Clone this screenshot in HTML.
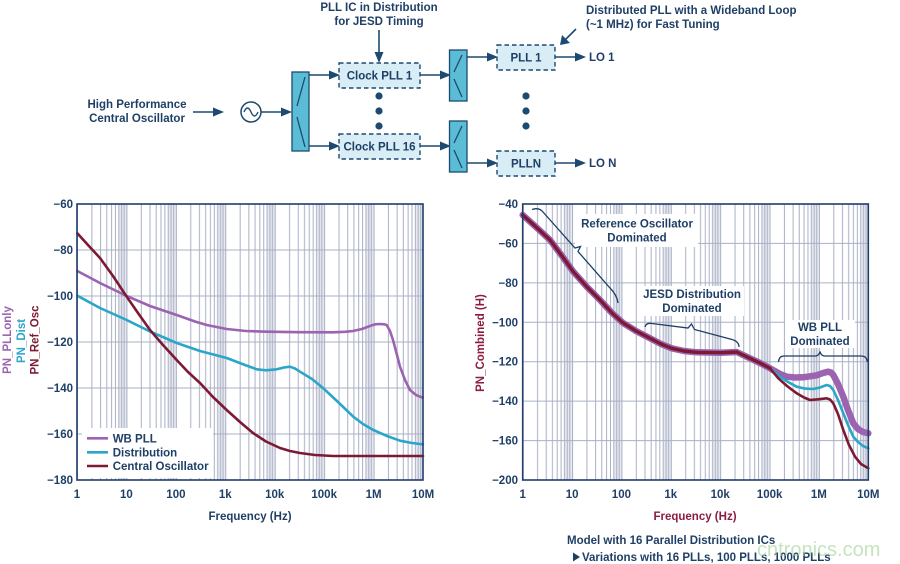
<!DOCTYPE html>
<html><head><meta charset="utf-8"><style>
html,body{margin:0;padding:0;background:#fff;}
svg{display:block;}
text{font-family:"Liberation Sans",Arial,sans-serif;font-weight:bold;font-size:11.5px;}
</style></head><body>
<svg width="900" height="564" viewBox="0 0 900 564" xmlns="http://www.w3.org/2000/svg">
<defs>
<pattern id="gl" x="77" y="0" width="49.43" height="564" patternUnits="userSpaceOnUse">
<rect x="41.8" y="0" width="7.63" height="564" fill="#c9cedb" opacity="0.45"/>
<g stroke="#a9b0c5" stroke-width="1">
<line x1="0.5" y1="0" x2="0.5" y2="564"/>
<line x1="14.88" y1="0" x2="14.88" y2="564"/><line x1="23.58" y1="0" x2="23.58" y2="564"/>
<line x1="29.76" y1="0" x2="29.76" y2="564"/><line x1="34.55" y1="0" x2="34.55" y2="564"/>
<line x1="38.46" y1="0" x2="38.46" y2="564"/><line x1="41.77" y1="0" x2="41.77" y2="564"/>
<line x1="44.64" y1="0" x2="44.64" y2="564"/><line x1="47.17" y1="0" x2="47.17" y2="564"/>
</g></pattern>
<pattern id="gr" x="522.7" y="0" width="49.37" height="564" patternUnits="userSpaceOnUse">
<rect x="41.7" y="0" width="7.67" height="564" fill="#c9cedb" opacity="0.45"/>
<g stroke="#a9b0c5" stroke-width="1">
<line x1="0.5" y1="0" x2="0.5" y2="564"/>
<line x1="14.86" y1="0" x2="14.86" y2="564"/><line x1="23.55" y1="0" x2="23.55" y2="564"/>
<line x1="29.72" y1="0" x2="29.72" y2="564"/><line x1="34.51" y1="0" x2="34.51" y2="564"/>
<line x1="38.42" y1="0" x2="38.42" y2="564"/><line x1="41.72" y1="0" x2="41.72" y2="564"/>
<line x1="44.59" y1="0" x2="44.59" y2="564"/><line x1="47.11" y1="0" x2="47.11" y2="564"/>
</g></pattern>
</defs>

<!-- ===== TOP DIAGRAM ===== -->
<g fill="#1f3f66">
<text x="379" y="11" text-anchor="middle">PLL IC in Distribution</text>
<text x="379" y="25" text-anchor="middle">for JESD Timing</text>
<text x="137" y="108" text-anchor="middle">High Performance</text>
<text x="137" y="122" text-anchor="middle">Central Oscillator</text>
<text x="586" y="14">Distributed PLL with a Wideband Loop</text>
<text x="586" y="28">(~1 MHz) for Fast Tuning</text>
<text x="589" y="61">LO 1</text>
<text x="589" y="167">LO N</text>
</g>
<g stroke="#1d4a70" stroke-width="1.6" fill="none">
<line x1="193" y1="112" x2="216" y2="112"/>
<line x1="261" y1="112" x2="284" y2="112"/>
<line x1="309" y1="75" x2="332" y2="75"/>
<line x1="309" y1="146" x2="332" y2="146"/>
<line x1="379" y1="30" x2="379" y2="55"/>
<line x1="420" y1="75" x2="443" y2="75"/>
<line x1="420" y1="146" x2="443" y2="146"/>
<line x1="467" y1="57" x2="490" y2="57"/>
<line x1="467" y1="163" x2="490" y2="163"/>
<line x1="555" y1="57" x2="578" y2="57"/>
<line x1="555" y1="163" x2="578" y2="163"/>
<line x1="576" y1="29" x2="565" y2="40"/>
</g>
<g fill="#1d4a70">
<polygon points="224,112 213,107.5 213,116.5"/>
<polygon points="292,112 281,107.5 281,116.5"/>
<polygon points="340,75 329,70.5 329,79.5"/>
<polygon points="340,146 329,141.5 329,150.5"/>
<polygon points="379,63 374.5,52 383.5,52"/>
<polygon points="451,75 440,70.5 440,79.5"/>
<polygon points="451,146 440,141.5 440,150.5"/>
<polygon points="498,57 487,52.5 487,61.5"/>
<polygon points="498,163 487,158.5 487,167.5"/>
<polygon points="586,57 575,52.5 575,61.5"/>
<polygon points="586,163 575,158.5 575,167.5"/>
<polygon points="560,45 562,35 570,43"/>
<circle cx="379" cy="96" r="3.6"/><circle cx="379" cy="111" r="3.6"/><circle cx="379" cy="126" r="3.6"/>
<circle cx="526" cy="96" r="3.6"/><circle cx="526" cy="111" r="3.6"/><circle cx="526" cy="126" r="3.6"/>
</g>
<circle cx="251" cy="112" r="10" fill="#fff" stroke="#1d4a70" stroke-width="1.5"/>
<path d="M244,112 Q247.5,104 251,112 T258,112" fill="none" stroke="#1d4a70" stroke-width="1.4"/>
<!-- splitters -->
<g stroke="#1d4a70" stroke-width="1.3">
<rect x="292" y="72" width="17" height="79" fill="#5bbcd6"/>
<rect x="449.5" y="50" width="17.5" height="51" fill="#5bbcd6"/>
<rect x="449.5" y="121" width="17.5" height="51" fill="#5bbcd6"/>
<line x1="297" y1="106" x2="305" y2="77"/><line x1="297" y1="117" x2="305" y2="147"/>
<line x1="454" y1="72" x2="462" y2="55"/><line x1="454" y1="79" x2="462" y2="97"/>
<line x1="454" y1="143" x2="462" y2="126"/><line x1="454" y1="150" x2="462" y2="168"/>
</g>
<g fill="#d8edf5" stroke="#1d4a70" stroke-width="1.4" stroke-dasharray="4.5,3">
<rect x="339" y="63" width="81" height="25"/>
<rect x="339" y="134" width="81" height="25"/>
<rect x="497" y="45" width="58" height="25"/>
<rect x="497" y="151" width="58" height="25"/>
</g>
<g fill="#1f3f66" text-anchor="middle">
<text x="379.5" y="79.5">Clock PLL 1</text>
<text x="379.5" y="150.5">Clock PLL 16</text>
<text x="526" y="61.5">PLL 1</text>
<text x="526" y="167.5">PLLN</text>
</g>

<!-- ===== LEFT CHART ===== -->
<rect x="77" y="204" width="346" height="276" fill="url(#gl)"/>
<g stroke="#a9b0c5" stroke-width="1">
<line x1="77" y1="250" x2="423" y2="250"/><line x1="77" y1="296" x2="423" y2="296"/>
<line x1="77" y1="342" x2="423" y2="342"/><line x1="77" y1="388" x2="423" y2="388"/>
<line x1="77" y1="434" x2="423" y2="434"/>
</g>
<rect x="82" y="428" width="131" height="50" fill="#fff"/>
<g fill="none" stroke-width="2.6" stroke-linejoin="round" stroke-linecap="round">
<polyline stroke="#2ba6c9" points="77.3,295.7 100,308 126.7,320 150,331.5 176.7,343 200,351 226.7,358 245,365 256.7,369.3 266,370.3 276.7,369.3 284,367.5 290,366.7 295,368.5 300,371.7 312,379 323.3,388.3 338,402 353.3,416.7 363,424 373.3,430 387,436 400,440.7 412,443 422.7,444.3"/>
<polyline stroke="#9c63b0" points="77.3,271 100,283 126.7,296 150,306 176.7,315 195,321.5 206.7,325 226.7,329 246,331 266.7,331.7 300,332.2 333,332.3 345,331.8 353,331 362,329 370,326 375,324.3 380,324 384,324.3 386.7,325 390,331 393,340 397,355 400,366.7 405,380 410,390 416,395 422.7,397.7"/>
<polyline stroke="#7d1a33" points="77.3,233.3 88,245 100,258 113,276 126.7,296.7 138,313 150,330 163,345 176.7,360 188,372 200,383 213,397 226.7,410 240,422 253,433 266,441.5 280,448 290,451 300,453 315,455 333,456 423,456"/>
</g>
<rect x="77" y="204" width="346" height="276" fill="none" stroke="#1f3d6b" stroke-width="1.6"/>
<!-- legend -->
<g stroke-width="2.6">
<line x1="87" y1="438.3" x2="108" y2="438.3" stroke="#9c63b0"/>
<line x1="87" y1="452.3" x2="108" y2="452.3" stroke="#2ba6c9"/>
<line x1="87" y1="466" x2="108" y2="466" stroke="#7d1a33"/>
</g>
<g fill="#1f3f66">
<text x="112.7" y="442.5">WB PLL</text>
<text x="112.7" y="456.5">Distribution</text>
<text x="112.7" y="470.2">Central Oscillator</text>
</g>
<!-- left y ticks -->
<g fill="#1f3f66" text-anchor="end">
<text x="73" y="208">−60</text><text x="73" y="254">−80</text><text x="73" y="300">−100</text>
<text x="73" y="346">−120</text><text x="73" y="392">−140</text><text x="73" y="438">−160</text>
<text x="73" y="484">−180</text>
</g>
<g fill="#1f3f66" text-anchor="middle">
<text x="77" y="498">1</text><text x="126.4" y="498">10</text><text x="175.9" y="498">100</text>
<text x="225.3" y="498">1k</text><text x="274.7" y="498">10k</text><text x="324.2" y="498">100k</text>
<text x="373.6" y="498">1M</text><text x="423" y="498">10M</text>
<text x="250" y="520">Frequency (Hz)</text>
</g>
<g text-anchor="middle">
<text transform="translate(11,340) rotate(-90)" fill="#9c63b0">PN_PLLonly</text>
<text transform="translate(25,341) rotate(-90)" fill="#2ba6c9">PN_Dist</text>
<text transform="translate(38.5,340) rotate(-90)" fill="#7d1a33">PN_Ref_Osc</text>
</g>

<!-- ===== RIGHT CHART ===== -->
<rect x="522.7" y="204" width="345.6" height="276" fill="url(#gr)"/>
<g stroke="#a9b0c5" stroke-width="1">
<line x1="522.7" y1="243.4" x2="868.3" y2="243.4"/><line x1="522.7" y1="282.9" x2="868.3" y2="282.9"/>
<line x1="522.7" y1="322.3" x2="868.3" y2="322.3"/><line x1="522.7" y1="361.7" x2="868.3" y2="361.7"/>
<line x1="522.7" y1="401.1" x2="868.3" y2="401.1"/><line x1="522.7" y1="440.6" x2="868.3" y2="440.6"/>
</g>
<g fill="#fff">
<rect x="575" y="214" width="123" height="33"/>
<rect x="640" y="286" width="104" height="30"/>
<rect x="785" y="320" width="70" height="28"/>
</g>
<g fill="none" stroke-linejoin="round" stroke-linecap="round">
<polyline stroke="#9c63b0" stroke-width="6.5" points="522.7,215 536,227 550,240 562,256 573.3,271.7 587,287 600,300 612,313 622.7,322.7 636,331 650,338.3 661,344 671.7,348.3 684,351 696.7,352.3 720.7,352.7 736.7,352 743,355 750,358.3 760,363 770,368.3 780,374 786.7,376.7 795,377.5 803.3,377.3 816.7,375.3 823,373 828.3,371.7 831,372.5 833.3,375 838,384 843.3,396.7 848,410 853.3,423.3 858,429 863,432 868.3,433.3"/>
<polyline stroke="#2ba6c9" stroke-width="2.6" points="770,368.3 780,376.7 788,382 796.7,386.7 805,388.6 813.3,389 820,387.5 826.7,385 830,386 833.3,390 838,400 843.3,413.3 848,425 853.3,436.7 858,442 863,446 868.3,448.3"/>
<polyline stroke="#7d1a33" stroke-width="2.6" points="770,368.3 778.3,378.3 787,386 796.7,393.3 804,397.5 810,400 818,399.3 826.7,398.3 830,399.5 833.3,403.3 838,414 843.3,430 849,445 855,456.7 861,464 868.3,468.3"/>
<polyline stroke="#7d1a33" stroke-width="3.4" points="522.7,215 536,227 550,240 562,256 573.3,271.7 587,287 600,300 612,313 622.7,322.7 636,331 650,338.3 661,344 671.7,348.3 684,351 696.7,352.3 720.7,352.7 736.7,352 743,355 750,358.3 760,363 770,368.3"/>
</g>
<rect x="522.7" y="204" width="345.6" height="276" fill="none" stroke="#1f3d6b" stroke-width="1.6"/>
<!-- braces -->
<g fill="none" stroke="#1d3e66" stroke-width="1.3">
<path d="M532,209.5 Q539,207 543,212 L575,248 L580.5,246.5 L578,251.5 L610,288 Q617,295 618,303"/>
<path d="M645,327 Q646,322.5 652,323.5 L688,328 L691.5,324 L694.5,329.5 L732,339.5 Q739,341.5 739,347"/>
<path d="M778.5,362 Q779,356 784,356 L815,356 Q819,356 820,351.5 Q821,356 825,356 L861,356 Q867,356 867.3,362"/>
</g>
<g fill="#1f3f66" text-anchor="middle">
<text x="637" y="227.5">Reference Oscillator</text>
<text x="637" y="241.5">Dominated</text>
<text x="692" y="298">JESD Distribution</text>
<text x="692" y="312">Dominated</text>
<text x="820" y="331">WB PLL</text>
<text x="820" y="345">Dominated</text>
</g>
<g fill="#1f3f66" text-anchor="end">
<text x="518" y="208">−40</text><text x="518" y="247.4">−60</text><text x="518" y="286.9">−80</text>
<text x="518" y="326.3">−100</text><text x="518" y="365.7">−120</text><text x="518" y="405.1">−140</text>
<text x="518" y="444.6">−160</text><text x="518" y="484">−200</text>
</g>
<g fill="#1f3f66" text-anchor="middle">
<text x="522.7" y="498">1</text><text x="572.1" y="498">10</text><text x="621.4" y="498">100</text>
<text x="670.8" y="498">1k</text><text x="720.2" y="498">10k</text><text x="769.6" y="498">100k</text>
<text x="818.9" y="498">1M</text><text x="868.3" y="498">10M</text>
</g>
<text x="695" y="520" text-anchor="middle" fill="#8b1e3f">Frequency (Hz)</text>
<text transform="translate(484,343) rotate(-90)" text-anchor="middle" fill="#8b1e3f">PN_Combined (H)</text>

<!-- bottom notes -->
<text x="567" y="544" fill="#1f3f66">Model with 16 Parallel Distribution ICs</text>
<polygon points="573,552.5 580,557 573,561.5" fill="#1f3f66"/>
<text x="582" y="561" fill="#1f3f66">Variations with 16 PLLs, 100 PLLs, 1000 PLLs</text>
<text x="757" y="556" fill="#9fd093" fill-opacity="0.6" style="font-weight:normal;font-size:20px">cntronics.com</text>
</svg>
</body></html>
